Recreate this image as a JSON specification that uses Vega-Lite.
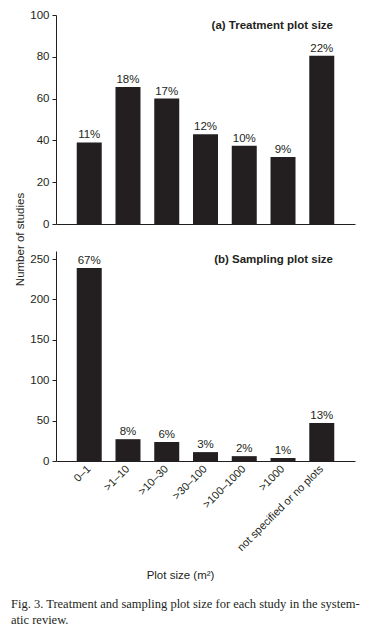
{
  "$schema": "https://vega.github.io/schema/vega-lite/v6.json",
  "padding": {"left": 11, "top": 9, "right": 5, "bottom": 5},
  "background": "white",
  "datasets": {
    "treatment": [
      {"size": "0–1", "n": 39, "pct": "11%"},
      {"size": ">1–10", "n": 65.5, "pct": "18%"},
      {"size": ">10–30", "n": 60, "pct": "17%"},
      {"size": ">30–100", "n": 43, "pct": "12%"},
      {"size": ">100–1000", "n": 37.5, "pct": "10%"},
      {"size": ">1000", "n": 32, "pct": "9%"},
      {"size": "not specified or no plots", "n": 80.5, "pct": "22%"}
    ],
    "sampling": [
      {"size": "0–1", "n": 239, "pct": "67%"},
      {"size": ">1–10", "n": 27, "pct": "8%"},
      {"size": ">10–30", "n": 23.5, "pct": "6%"},
      {"size": ">30–100", "n": 11, "pct": "3%"},
      {"size": ">100–1000", "n": 6, "pct": "2%"},
      {"size": ">1000", "n": 3.7, "pct": "1%"},
      {"size": "not specified or no plots", "n": 47, "pct": "13%"}
    ]
  },
  "title": {
    "text": ["Fig. 3. Treatment and sampling plot size for each study in the system-", "atic review."],
    "orient": "bottom",
    "anchor": "start",
    "frame": "bounds",
    "font": "Liberation Serif",
    "fontSize": 12.5,
    "fontWeight": "normal",
    "color": "#231f20",
    "offset": 17,
    "dx": -3,
    "lineHeight": 16
  },
  "bounds": "flush",
  "spacing": 27,
  "vconcat": [
    {
      "width": 299,
      "height": 209,
      "data": {"name": "treatment"},
      "title": {"text": "(a)  Treatment plot size", "anchor": "end", "offset": -22, "dx": -22, "font": "Liberation Sans", "fontSize": 11.5, "fontWeight": "bold", "color": "#231f20"},
      "encoding": {
        "x": {
          "field": "size", "type": "nominal", "sort": null,
          "scale": {"paddingInner": 0.355, "paddingOuter": 0.535},
          "axis": {"labels": false, "ticks": false, "title": null, "domainColor": "#231f20"}
        },
        "y": {
          "field": "n", "type": "quantitative",
          "scale": {"domain": [0, 100], "nice": false},
          "axis": {
            "values": [0, 20, 40, 60, 80, 100],
            "title": "Number of studies",
            "titleAngle": 270,
            "titleX": -36,
            "titleY": 224,
            "titleAlign": "center",
            "titleBaseline": "middle",
            "titleFont": "Liberation Sans",
            "titleFontSize": 11.5,
            "titleFontWeight": "normal",
            "titleColor": "#231f20"
          }
        }
      },
      "layer": [
        {"mark": {"type": "bar", "color": "#231f20"}},
        {"mark": {"type": "text", "baseline": "bottom", "dy": -2, "font": "Liberation Sans", "fontSize": 11.5, "color": "#231f20"}, "encoding": {"text": {"field": "pct"}}}
      ]
    },
    {
      "width": 299,
      "height": 210,
      "data": {"name": "sampling"},
      "title": {"text": "(b)  Sampling plot size", "anchor": "end", "offset": -14, "dx": -22, "font": "Liberation Sans", "fontSize": 11.5, "fontWeight": "bold", "color": "#231f20"},
      "encoding": {
        "x": {
          "field": "size", "type": "nominal", "sort": null,
          "scale": {"paddingInner": 0.355, "paddingOuter": 0.535},
          "axis": {
            "ticks": false,
            "labelAngle": -45,
            "labelAlign": "right",
            "labelBaseline": "middle",
            "labelPadding": 6,
            "labelFont": "Liberation Sans",
            "labelFontSize": 11,
            "labelColor": "#231f20",
            "domainColor": "#231f20",
            "title": "Plot size (m²)",
            "titleX": 124,
            "titleFont": "Liberation Sans",
            "titleFontSize": 11.5,
            "titleFontWeight": "normal",
            "titleColor": "#231f20",
            "titlePadding": 17
          }
        },
        "y": {
          "field": "n", "type": "quantitative",
          "scale": {"domain": [0, 260], "nice": false},
          "axis": {"values": [0, 50, 100, 150, 200, 250], "title": null}
        }
      },
      "layer": [
        {"mark": {"type": "bar", "color": "#231f20"}},
        {"mark": {"type": "text", "baseline": "bottom", "dy": -2, "font": "Liberation Sans", "fontSize": 11.5, "color": "#231f20"}, "encoding": {"text": {"field": "pct"}}}
      ]
    }
  ],
  "config": {
    "view": {"stroke": null},
    "axis": {
      "grid": false,
      "domainColor": "#231f20",
      "tickColor": "#231f20",
      "tickSize": 4,
      "labelFont": "Liberation Sans",
      "labelFontSize": 11.5,
      "labelColor": "#231f20",
      "labelPadding": 3
    }
  }
}
